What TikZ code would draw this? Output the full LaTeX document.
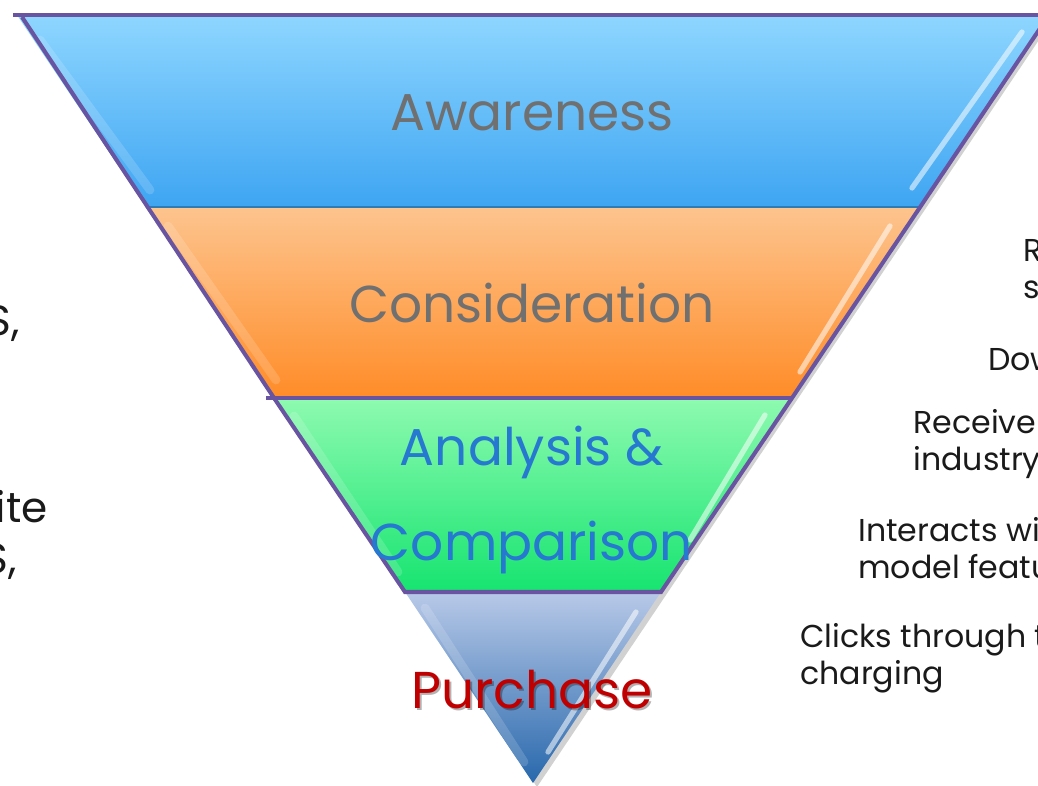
\documentclass[tikz,border=0pt]{standalone}
\usepackage{fontspec}
\setmainfont{Poppins}
\usepackage{tikz}
\definecolor{FunnelLine}{RGB}{104,84,160}
\definecolor{AwareTop}{RGB}{142,214,255}
\definecolor{AwareBot}{RGB}{62,165,242}
\definecolor{ConsTop}{RGB}{253,196,142}
\definecolor{ConsBot}{RGB}{255,140,40}
\definecolor{AnaTop}{RGB}{142,250,176}
\definecolor{AnaBot}{RGB}{22,228,112}
\definecolor{BuyTop}{RGB}{184,201,232}
\definecolor{BuyBot}{RGB}{40,104,172}
\definecolor{StageGray}{RGB}{112,112,112}
\definecolor{StageBlue}{RGB}{38,120,208}
\definecolor{StageRed}{RGB}{192,0,0}
\definecolor{NoteInk}{RGB}{26,26,26}

\begin{document}
\begin{tikzpicture}[
  x=0.02cm,y=-0.02cm,
  stage/.style={anchor=base,inner sep=0pt,align=center,
    font=\fontsize{29.5}{54}\selectfont},
  note/.style={anchor=base west,inner sep=0pt,align=left,text=NoteInk,
    font=\fontsize{18}{21}\selectfont},
  side/.style={anchor=base east,inner sep=0pt,text=NoteInk,
    font=\fontsize{24}{29}\selectfont},
  rim/.style={draw=FunnelLine,line width=2.3pt,line join=miter},
  glint/.style={white,opacity=0.55,line width=3pt,line cap=round},
  edgelight/.style={white,opacity=0.16,line width=5pt,line cap=round}
]
  \useasboundingbox (0,0) rectangle (1038,785);
  \clip (0,0) rectangle (1038,785);

  % corners of the funnel bands
  \coordinate (a1) at (17,15);   \coordinate (a2) at (1049,15);
  \coordinate (b1) at (146,207); \coordinate (b2) at (920,207);
  \coordinate (c1) at (274,398); \coordinate (c2) at (792,398);
  \coordinate (d1) at (405,592); \coordinate (d2) at (661,592);
  \coordinate (tip) at (533,783);

  % soft shadow behind the funnel
  \fill[black,opacity=0.18] ([shift={(4,4)}]a1) -- ([shift={(4,4)}]a2)
    -- ([shift={(4,4)}]tip) -- cycle;

  % bands
  \shade[top color=AwareTop,bottom color=AwareBot] (a1) -- (a2) -- (b2) -- (b1) -- cycle;
  \shade[top color=ConsTop,bottom color=ConsBot] (b1) -- (b2) -- (c2) -- (c1) -- cycle;
  \shade[top color=AnaTop,bottom color=AnaBot] (c1) -- (c2) -- (d2) -- (d1) -- cycle;
  \shade[top color=BuyTop,middle color=BuyTop!70!BuyBot,bottom color=BuyBot]
    (d1) -- (d2) -- (tip) -- cycle;
  \draw[AwareBot!75!black,line width=0.8pt] (b1) -- (b2);

  % bevel highlights
  \draw[glint] (1022,32) -- (912,188);
  \draw[glint] (890,226) -- (800,372);
  \draw[glint] (765,415) -- (690,540);
  \draw[glint] (636,612) -- (548,752);
  \draw[edgelight] (40,40) -- (150,190);
  \draw[edgelight] (168,226) -- (276,380);
  \draw[edgelight] (294,416) -- (398,572);
  \draw[edgelight] (425,608) -- (524,762);

  % purple rim
  \draw[rim] (13,15) -- (1060,15);
  \draw[rim] (22,17) -- (c1) -- (d1) -- (d2) -- (c2) -- (a2);
  \draw[rim] (266,398) -- (c2);

  % stage labels (multi-line nodes sit on their last baseline)
  \node[stage,text=StageGray] (aware) at (532,130) {Awareness};
  \node[stage,text=StageGray] (consid) at (532,322) {Consideration};
  \node[stage,text=StageBlue] (analysis) at (532,560) {Analysis \&\\Comparison};
  \node[stage,text=black,opacity=0.3] (buyshadow) at (534,710) {Purchase};
  \node[stage,text=StageRed] (buy) at (532,708) {Purchase};

  % notes on the right
  \node[note] (nRs) at (1023,298) {R\\s};
  \node[note] (nDow) at (988,370) {Dow};
  \node[note] (nRecv) at (913,470) {Receive\\industry};
  \node[note] (nInter) at (858,578) {Interacts wi\\model featu};
  \node[note] (nClick) at (800,684) {Clicks through t\\charging};

  % notes on the left
  \node[side] (lTop) at (20,335) {S,};
  \node[side] (lIte) at (48,522) {ite};
  \node[side] (lLow) at (17,573) {S,};
\end{tikzpicture}
\end{document}
